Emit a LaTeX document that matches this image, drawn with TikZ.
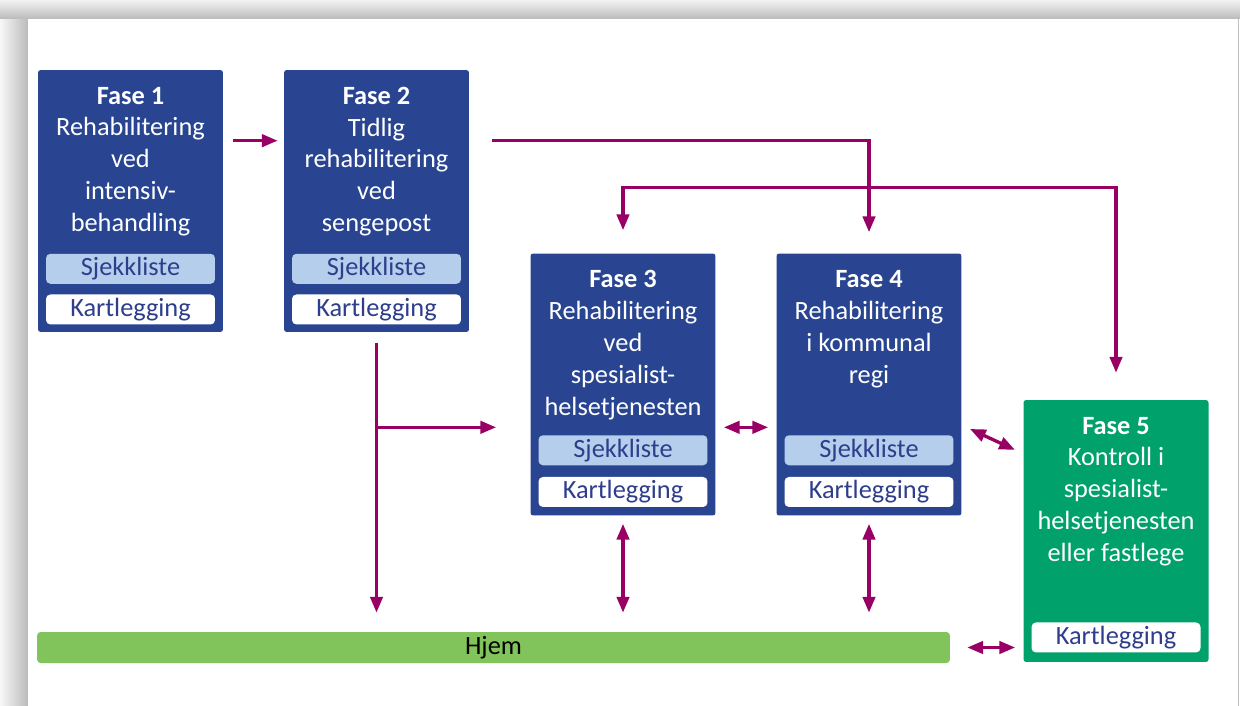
\documentclass[tikz,border=0pt]{standalone}
\usepackage{fontspec}
\setmainfont{Carlito}
\usepackage{tikz}
\usetikzlibrary{arrows.meta, positioning, calc}

\definecolor{fasebla}{RGB}{41,69,145}
\definecolor{lysbla}{RGB}{180,206,236}
\definecolor{tekstbla}{RGB}{46,62,140}
\definecolor{fasegronn}{RGB}{0,161,107}
\definecolor{hjemgronn}{RGB}{130,196,92}
\definecolor{pilfarge}{RGB}{153,0,102}

\begin{document}
\begin{tikzpicture}[
			x=0.02cm, y=-0.02cm,
			fase/.style={
				fill=fasebla,
				rounded corners=1.5pt,
				minimum width=3.7cm,
				minimum height=5.24cm,
				inner sep=0pt
			},
			tekst/.style={text=white, align=center, inner sep=0pt, font=\fontsize{15}{18.1}\selectfont},
			sjekk/.style={fill=lysbla, text=tekstbla, rounded corners=2.5pt, minimum width=3.38cm, minimum height=0.6cm, inner sep=0pt, font=\fontsize{15}{18}\selectfont},
			kart/.style={sjekk, fill=white},
			pil/.style={-{Triangle[length=9pt,width=7pt]}, draw=pilfarge, line width=1.9pt},
			dobbel/.style={pil, {Triangle[length=9pt,width=7pt]}-{Triangle[length=9pt,width=7pt]}}
			]
			
			% Frame and shadow
			\useasboundingbox (0,0) rectangle (1240,706);
			\shade[left color=black!3, right color=black!27] (0,0) rectangle (28,706);
			\shade[top color=black!5, bottom color=black!27] (0,0) rectangle (1240,19);
			\fill[white] (28,19) rectangle (1238,706);
			\draw[black!25, line width=0.6pt] (1238.5,19) -- (1238.5,706);
			
			% Fase 1 and 2
			\node[fase] (f1) at (130.5,201) {};
			\node[fase] (f2) at (376.5,201) {};
			
			% Fase 3 and 4
			\node[fase] (f3) at (623,384.5) {};
			\node[fase] (f4) at (869,384.5) {};
			
			% Fase 5
			\node[fase, fill=fasegronn] (f5) at (1116,531) {};
			
			% Hjem
			\node[fill=hjemgronn, rounded corners=2pt, minimum width=18.26cm, minimum height=0.62cm, inner sep=0pt, font=\fontsize{15}{18}\selectfont] (hjem) at (493.5,647.5) {Hjem};
			
			% Texts
			\node[tekst, below=0.34cm of f1.north] (t1) {\textbf{Fase 1}\\Rehabilitering\\ved\\intensiv-\\behandling};
			\node[tekst, below=0.34cm of f2.north] (t2) {\textbf{Fase 2}\\Tidlig\\rehabilitering\\ved\\sengepost};
			\node[tekst, below=0.34cm of f3.north] (t3) {\textbf{Fase 3}\\Rehabilitering\\ved\\spesialist-\\helsetjenesten};
			\node[tekst, below=0.34cm of f4.north] (t4) {\textbf{Fase 4}\\Rehabilitering\\i kommunal\\regi};
			\node[tekst, below=0.34cm of f5.north] (t5) {\textbf{Fase 5}\\Kontroll i\\spesialist-\\helsetjenesten\\eller fastlege};
			
			% Sjekkliste and Kartlegging
			\node[kart, above=0.15cm of f1.south] (k1) {Kartlegging};
			\node[sjekk, above=0.2cm of k1] (s1) {Sjekkliste};
			\node[kart, above=0.15cm of f2.south] (k2) {Kartlegging};
			\node[sjekk, above=0.2cm of k2] (s2) {Sjekkliste};
			\node[kart, above=0.17cm of f3.south] (k3) {Kartlegging};
			\node[sjekk, above=0.22cm of k3] (s3) {Sjekkliste};
			\node[kart, above=0.17cm of f4.south] (k4) {Kartlegging};
			\node[sjekk, above=0.22cm of k4] (s4) {Sjekkliste};
			\node[kart, above=0.19cm of f5.south] (k5) {Kartlegging};
			
			% Arrows
			\coordinate (br) at ($(f2.south)+(0,95)$);
			\draw[pil, shorten <=0.2cm, shorten >=0.12cm] ($(f1.north east)+(0,71)$) -- ($(f2.north west)+(0,71)$);
			\draw[pil, shorten <=0.46cm, shorten >=0.42cm] ($(f2.north east)+(0,71)$) -| (f4.north);
			\draw[dobbel, shorten <=0.46cm, shorten >=0.54cm] (f3.north) -- ++(0,-66) -| (f5.north);
			\draw[pil, shorten <=0.22cm, shorten >=0.38cm] (f2.south) -- (f2.south |- hjem.north);
			\draw[pil, shorten >=0.68cm] (br) -- (br -| f3.west);
			\draw[dobbel, shorten <=0.16cm, shorten >=0.16cm] (br -| f3.east) -- (br -| f4.west);
			\draw[dobbel, shorten <=0.18cm, shorten >=0.18cm] ($(f4.north east)+(0,172)$) -- ($(f5.north west)+(0,54)$);
			\draw[dobbel, shorten <=0.16cm, shorten >=0.38cm] (f3.south) -- (f3.south |- hjem.north);
			\draw[dobbel, shorten <=0.16cm, shorten >=0.38cm] (f4.south) -- (f4.south |- hjem.north);
			\draw[dobbel, shorten <=0.34cm, shorten >=0.16cm] (hjem.east) -- (hjem.east -| f5.west);
			
		\end{tikzpicture}
\end{document}
